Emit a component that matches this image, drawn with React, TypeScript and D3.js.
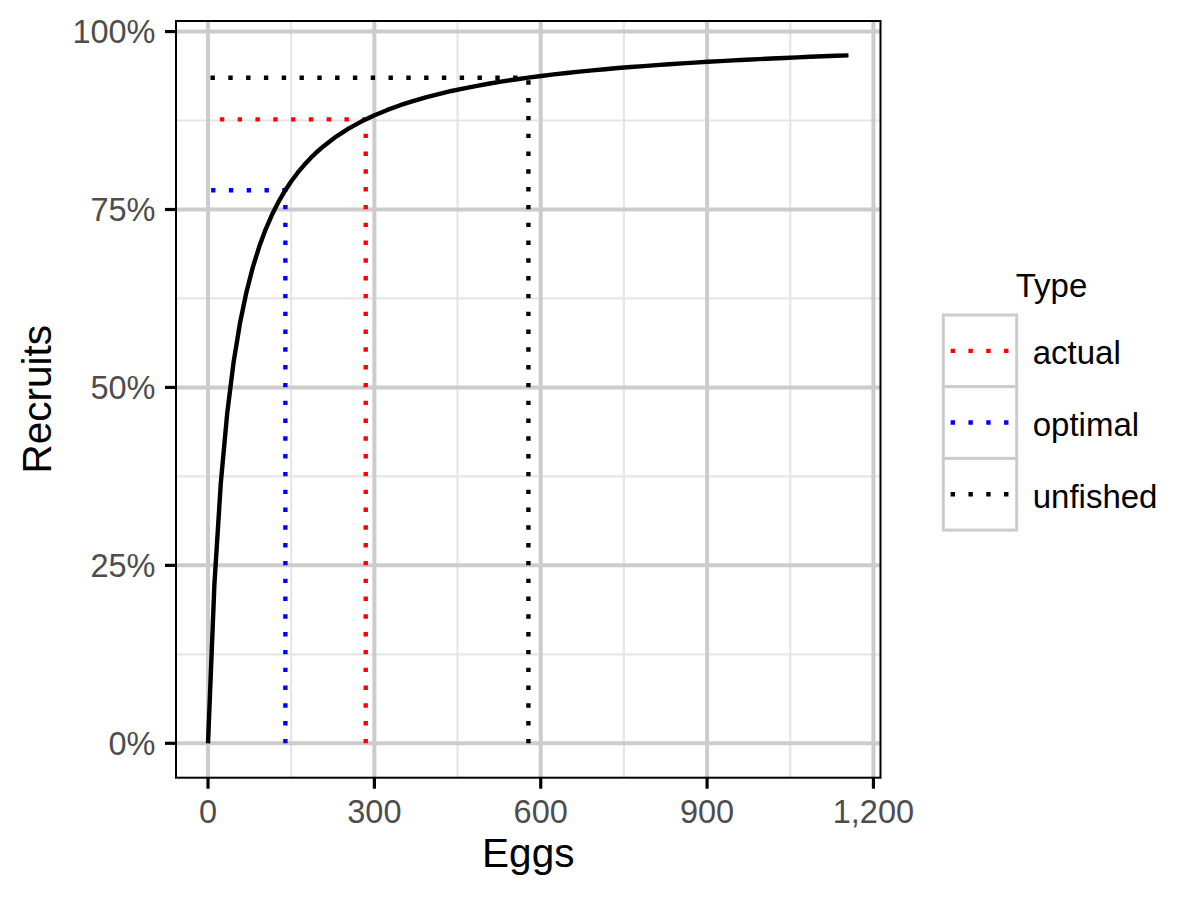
import React from "react";
import * as d3 from "d3";

const eggs = [
  0, 11.55, 23.1, 34.65, 46.2, 57.75, 69.3, 80.85, 92.4, 103.95, 115.5, 127.05, 138.6, 150.15,
  161.7, 173.25, 184.8, 196.35, 207.9, 231, 254.1, 277.2, 300.3, 323.4,
  346.5, 369.6, 392.7, 415.8, 438.9, 462, 485.1, 508.2, 531.3, 554.4, 577.5, 600.6, 623.7, 646.8,
  669.9, 693, 716.1, 739.2, 762.3, 785.4, 808.5, 831.6, 854.7, 877.8, 900.9, 924, 947.1, 970.2,
  993.3, 1016.4, 1039.5, 1062.6, 1085.7, 1108.8, 1131.9, 1155,
];
const recruits = [
  0, 0.2241, 0.3661, 0.4642, 0.536, 0.5908, 0.634, 0.669, 0.6979, 0.7221, 0.7428, 0.7606, 0.776,
  0.7896, 0.8017, 0.8124, 0.8221, 0.8308, 0.8386, 0.8524, 0.864, 0.8739,
  0.8825, 0.8899, 0.8965, 0.9023, 0.9076, 0.9122, 0.9165, 0.9203, 0.9238, 0.927, 0.93, 0.9327,
  0.9352, 0.9376, 0.9398, 0.9418, 0.9437, 0.9454, 0.9471, 0.9487, 0.9501, 0.9515, 0.9529, 0.9541,
  0.9553, 0.9564, 0.9575, 0.9585, 0.9595, 0.9604, 0.9613, 0.9621, 0.9629, 0.9637, 0.9645, 0.9652,
  0.9659, 0.9665,
];

// Reference points
const refTypes = ["actual", "optimal", "unfished"];
const refEggs = [284.4, 139.5, 577.8];
const refRecruits = [0.8766, 0.7771, 0.935];
const refColors = ["#ff0000", "#0000ff", "#000000"];

// Ticks
const xTicks = [0, 300, 600, 900, 1200];
const xTickLabels = ["0", "300", "600", "900", "1,200"];
const xMinor = [150, 450, 750, 1050];
const yTicks = [0, 0.25, 0.5, 0.75, 1];
const yTickLabels = ["0%", "25%", "50%", "75%", "100%"];
const yMinor = [0.125, 0.375, 0.625, 0.875];

const FONT = "'Liberation Sans', Arial, Helvetica, sans-serif";

export default function App() {
  const panel = { left: 176, right: 880.5, top: 21, bottom: 777.7 };

  const xMax = d3.max(eggs) as number;
  const yMax = d3.max(recruits) as number;
  const xPad = xMax * 0.05;
  const yPad = yMax * 0.05;

  const x = d3.scaleLinear().domain([-xPad, xMax + xPad]).range([panel.left, panel.right]);
  const y = d3.scaleLinear().domain([-yPad, yMax + yPad]).range([panel.bottom, panel.top]);

  const curve = d3
    .line<number>()
    .x((_, i) => x(eggs[i]))
    .y((_, i) => y(recruits[i]))(eggs) as string;

  const refPaths = refTypes.map((t, i) => {
    const p = d3.path();
    p.moveTo(x(refEggs[i]), y(0));
    p.lineTo(x(refEggs[i]), y(refRecruits[i]));
    p.lineTo(x(0), y(refRecruits[i]));
    return p.toString();
  });

  const majorCol = "#cccccc";
  const minorCol = "#e6e6e6";
  const dash = "4.4 13.4";

  const legend = { x: 943.3, top: 315, w: 73.4, h: 71.7 };

  return (
    <svg
      width={1200}
      height={900}
      style={{ position: "absolute", left: 0, top: 0, background: "#fff" }}
      fontFamily={FONT}
    >
      <rect x={0} y={0} width={1200} height={900} fill="#fff" />
      <defs>
        <clipPath id="panelClip">
          <rect x={panel.left} y={panel.top} width={panel.right - panel.left} height={panel.bottom - panel.top} />
        </clipPath>
      </defs>

      <g clipPath="url(#panelClip)">
        {/* minor grid */}
        {xMinor.map((v) => (
          <line key={"xm" + v} x1={x(v)} x2={x(v)} y1={panel.top} y2={panel.bottom} stroke={minorCol} strokeWidth={2.2} />
        ))}
        {yMinor.map((v) => (
          <line key={"ym" + v} x1={panel.left} x2={panel.right} y1={y(v)} y2={y(v)} stroke={minorCol} strokeWidth={2.2} />
        ))}
        {/* major grid */}
        {xTicks.map((v) => (
          <line key={"xM" + v} x1={x(v)} x2={x(v)} y1={panel.top} y2={panel.bottom} stroke={majorCol} strokeWidth={4} />
        ))}
        {yTicks.map((v) => (
          <line key={"yM" + v} x1={panel.left} x2={panel.right} y1={y(v)} y2={y(v)} stroke={majorCol} strokeWidth={4} />
        ))}

        {/* reference dotted paths */}
        {refPaths.map((d, i) => (
          <path key={refTypes[i]} d={d} fill="none" stroke={refColors[i]} strokeWidth={4.4} strokeDasharray={dash} strokeLinecap="butt" />
        ))}

        {/* curve */}
        <path d={curve} fill="none" stroke="#000" strokeWidth={4.4} strokeLinejoin="round" />
      </g>

      {/* panel border */}
      <rect
        x={panel.left}
        y={panel.top}
        width={panel.right - panel.left}
        height={panel.bottom - panel.top}
        fill="none"
        stroke="#000"
        strokeWidth={2}
      />

      {/* x axis ticks & labels */}
      {xTicks.map((v, i) => (
        <g key={"xt" + v}>
          <line x1={x(v)} x2={x(v)} y1={panel.bottom} y2={panel.bottom + 11} stroke="#000" strokeWidth={3.2} />
          <text x={x(v)} y={822.7} textAnchor="middle" fontSize={32.5} fill="#4d4d4d">
            {xTickLabels[i]}
          </text>
        </g>
      ))}
      {/* y axis ticks & labels */}
      {yTicks.map((v, i) => (
        <g key={"yt" + v}>
          <line x1={panel.left - 11} x2={panel.left} y1={y(v)} y2={y(v)} stroke="#000" strokeWidth={3.2} />
          <text x={155.5} y={y(v)} dy="0.36em" textAnchor="end" fontSize={32.5} fill="#4d4d4d">
            {yTickLabels[i]}
          </text>
        </g>
      ))}

      {/* axis titles */}
      <text x={(panel.left + panel.right) / 2} y={866.7} textAnchor="middle" fontSize={40.5} fill="#000">
        Eggs
      </text>
      <text
        transform={`translate(50.7,${(panel.top + panel.bottom) / 2}) rotate(-90)`}
        textAnchor="middle"
        fontSize={40.5}
        fill="#000"
      >
        Recruits
      </text>

      {/* legend */}
      <text x={1051.5} y={296.7} textAnchor="middle" fontSize={33} fill="#000">
        Type
      </text>
      {refTypes.map((t, i) => {
        const top = legend.top + i * legend.h;
        const cy = top + legend.h / 2;
        return (
          <g key={"lg" + t}>
            <rect x={legend.x} y={top} width={legend.w} height={legend.h} fill="#fff" stroke={majorCol} strokeWidth={3} />
            <line
              x1={legend.x + legend.w * 0.1}
              x2={legend.x + legend.w * 0.9}
              y1={cy}
              y2={cy}
              stroke={refColors[i]}
              strokeWidth={4.4}
              strokeDasharray={dash}
            />
            <text x={1032.7} y={cy + 13.5} fontSize={33} fill="#000">
              {t}
            </text>
          </g>
        );
      })}
    </svg>
  );
}
